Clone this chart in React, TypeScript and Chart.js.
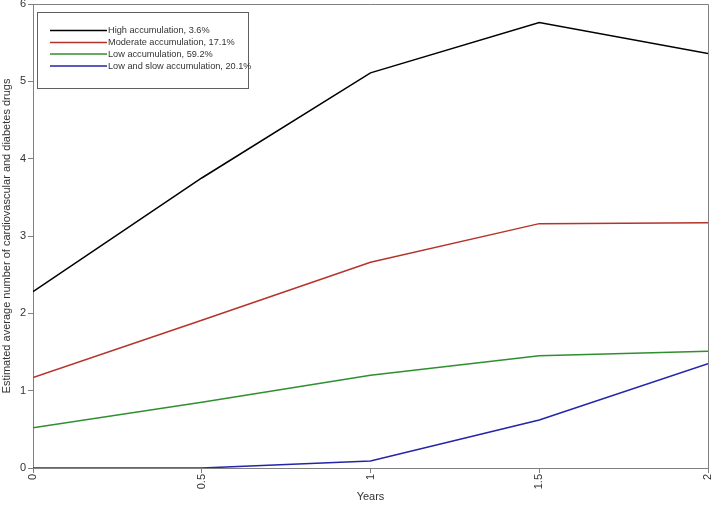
import React, { useEffect, useRef } from "react";
import { Chart, registerables } from "chart.js";

Chart.register(...registerables);

const years = [0, 0.5, 1, 1.5, 2];
const seriesNames = [
  "High accumulation, 3.6%",
  "Moderate accumulation, 17.1%",
  "Low accumulation, 59.2%",
  "Low and slow accumulation, 20.1%",
];
const highValues = [2.28, 3.75, 5.11, 5.76, 5.36];
const moderateValues = [1.17, 1.91, 2.66, 3.16, 3.17];
const lowValues = [0.52, 0.85, 1.2, 1.45, 1.51];
const lowSlowValues = [0, 0, 0.09, 0.62, 1.35];
const seriesColors = ["#000000", "#b5332b", "#2f8f2f", "#2424a8"];
const xTickLabels = ["0", "0.5", "1", "1.5", "2"];

const FONT = "'Liberation Sans', Arial, sans-serif";

const framePlugin = {
  id: "frameAndLegend",
  afterDraw(chart: any) {
    const { ctx, chartArea } = chart;
    ctx.save();
    ctx.strokeStyle = "#808080";
    ctx.lineWidth = 1;
    ctx.beginPath();
    ctx.moveTo(chartArea.left, chartArea.top + 0.5);
    ctx.lineTo(chartArea.right + 0.5, chartArea.top + 0.5);
    ctx.lineTo(chartArea.right + 0.5, chartArea.bottom);
    ctx.stroke();

    // legend box
    const bx = chartArea.left + 4.5;
    const by = chartArea.top + 8.5;
    const bw = 211;
    const bh = 76;
    ctx.strokeStyle = "#606060";
    ctx.strokeRect(bx, by, bw, bh);
    ctx.font = `9.2px ${FONT}`;
    ctx.textBaseline = "middle";
    ctx.textAlign = "left";
    const rowYs = [30.5, 42.5, 54, 66];
    chart.data.datasets.forEach((ds: any, i: number) => {
      const y = rowYs[i];
      ctx.strokeStyle = ds.borderColor;
      ctx.lineWidth = 1.5;
      ctx.beginPath();
      ctx.moveTo(50, y);
      ctx.lineTo(107, y);
      ctx.stroke();
      ctx.fillStyle = "#333333";
      ctx.fillText(ds.label, 108, y);
    });
    ctx.restore();
  },
};

export default function App() {
  const ref = useRef<HTMLCanvasElement>(null);
  useEffect(() => {
    document.body.style.margin = "0";
    const allValues = [highValues, moderateValues, lowValues, lowSlowValues];
    const chart = new Chart(ref.current!, {
      type: "line",
      data: {
        datasets: allValues.map((vals, i) => ({
          label: seriesNames[i],
          data: years.map((x, j) => ({ x, y: vals[j] })),
          borderColor: seriesColors[i],
          backgroundColor: seriesColors[i],
          borderWidth: 1.5,
          pointRadius: 0,
          tension: 0,
          fill: false,
        })),
      },
      options: {
        animation: false,
        responsive: false,
        layout: { padding: { top: 4, right: 9, left: 0, bottom: 0 } },
        plugins: { legend: { display: false }, tooltip: { enabled: false } },
        scales: {
          x: {
            type: "linear",
            min: 0,
            max: 2,
            afterFit: (s: any) => {
              s.height = 42;
              s.paddingLeft = 0;
              s.paddingRight = 0;
            },
            afterBuildTicks: (s: any) => {
              s.ticks = years.map((v) => ({ value: v }));
            },
            ticks: {
              minRotation: 90,
              maxRotation: 90,
              color: "#333333",
              font: { family: FONT, size: 11 },
              padding: 1,
              callback: (v: any, idx: number) => xTickLabels[idx],
            },
            grid: { drawOnChartArea: false, drawTicks: true, tickLength: 5, color: "#808080" },
            border: { display: true, color: "#808080" },
            title: {
              display: true,
              text: "Years",
              color: "#333333",
              font: { family: FONT, size: 11 },
              padding: { top: 0, bottom: 6 },
            },
          },
          y: {
            min: 0,
            max: 6,
            afterFit: (s: any) => {
              s.width = 33;
              s.paddingTop = 0;
              s.paddingBottom = 0;
            },
            ticks: {
              stepSize: 1,
              color: "#333333",
              font: { family: FONT, size: 11 },
              padding: 2,
            },
            grid: { drawOnChartArea: false, drawTicks: true, tickLength: 5, color: "#808080" },
            border: { display: true, color: "#808080" },
            title: {
              display: true,
              text: "Estimated average number of cardiovascular and diabetes drugs",
              color: "#333333",
              font: { family: FONT, size: 11 },
              padding: { top: 0, bottom: 0 },
            },
          },
        },
      },
      plugins: [framePlugin],
    } as any);
    return () => chart.destroy();
  }, []);
  return <canvas ref={ref} width={717} height={510} style={{ display: "block" }} />;
}
